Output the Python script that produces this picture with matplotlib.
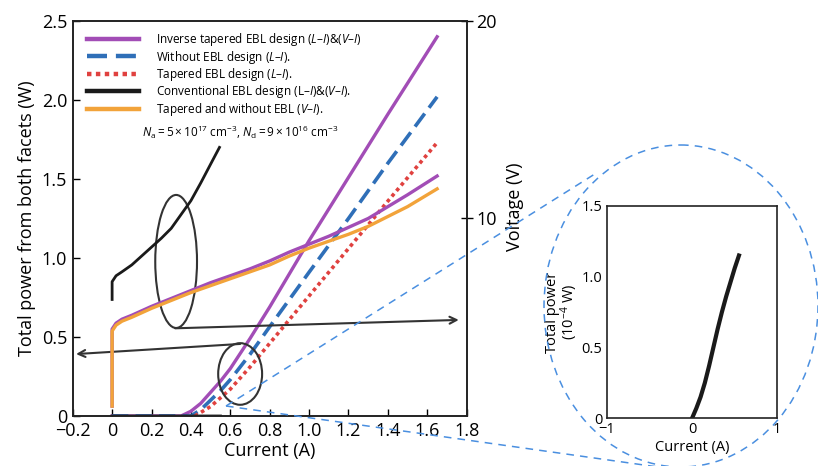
import matplotlib
matplotlib.use("Agg")
import matplotlib.pyplot as plt
from matplotlib.patches import Ellipse

plt.rcParams['font.family'] = ['Open Sans', 'DejaVu Sans']
plt.rcParams['mathtext.fontset'] = 'custom'
plt.rcParams['mathtext.rm'] = 'Open Sans'
plt.rcParams['mathtext.it'] = 'Open Sans:italic'

# L-I curves (W) vs current (A)
inv_li_x = [0.0, 0.35, 0.40, 0.45, 0.50, 0.55, 0.60, 0.70, 0.80, 1.00, 1.20, 1.40, 1.65]
inv_li_y = [0.0, 0.0, 0.03, 0.08, 0.15, 0.22, 0.30, 0.49, 0.69, 1.11, 1.51, 1.91, 2.40]
wo_li_x = [0.0, 0.40, 0.45, 0.50, 0.55, 0.60, 0.70, 0.80, 1.00, 1.20, 1.40, 1.65]
wo_li_y = [0.0, 0.0, 0.04, 0.10, 0.16, 0.23, 0.39, 0.565, 0.91, 1.25, 1.60, 2.02]
tap_li_x = [0.42, 0.50, 0.60, 0.70, 0.80, 0.90, 1.00, 1.20, 1.40, 1.65]
tap_li_y = [0.0, 0.06, 0.17, 0.31, 0.46, 0.61, 0.76, 1.06, 1.36, 1.73]
# conventional L-I, in 1e-4 W (inset)
conv_li_x = [0.0, 0.05, 0.10, 0.15, 0.20, 0.25, 0.30, 0.35, 0.40, 0.45, 0.50, 0.55]
conv_li_y = [0.0, 0.07, 0.15, 0.25, 0.37, 0.50, 0.63, 0.75, 0.86, 0.96, 1.06, 1.15]

# V-I curves (V) vs current (A)
inv_vi_x = [0.0, 0.0, 0.02, 0.05, 0.1, 0.2, 0.3, 0.4, 0.5, 0.6, 0.7, 0.8, 0.9, 1.0, 1.1, 1.2, 1.3, 1.4, 1.5, 1.65]
inv_vi_y = [0.5, 4.4, 4.7, 4.9, 5.1, 5.55, 5.95, 6.35, 6.75, 7.1, 7.45, 7.85, 8.3, 8.7, 9.1, 9.55, 10.0, 10.6, 11.2, 12.15]
tw_vi_x = [0.0, 0.0, 0.02, 0.05, 0.1, 0.2, 0.3, 0.4, 0.5, 0.6, 0.7, 0.8, 0.9, 1.0, 1.1, 1.2, 1.3, 1.4, 1.5, 1.65]
tw_vi_y = [0.5, 4.3, 4.6, 4.8, 5.0, 5.45, 5.85, 6.25, 6.6, 6.95, 7.3, 7.65, 8.1, 8.5, 8.85, 9.2, 9.6, 10.1, 10.6, 11.5]
conv_vi_x = [0.0, 0.0, 0.02, 0.05, 0.10, 0.15, 0.20, 0.25, 0.30, 0.35, 0.40, 0.45, 0.50, 0.545]
conv_vi_y = [5.9, 6.8, 7.1, 7.3, 7.65, 8.1, 8.55, 9.0, 9.5, 10.2, 10.9, 11.8, 12.75, 13.6]

labels = ['Inverse tapered EBL design ($L$–$I$)&($V$–$I$)',
          'Without EBL design ($L$–$I$).',
          'Tapered EBL design ($L$–$I$).',
          'Conventional EBL design (L–$I$)&($V$–$I$).',
          'Tapered and without EBL ($V$–$I$).']

purple = '#a24db6'
blue = '#2f6fb8'
red = '#e0413f'
black = '#1a1a1a'
orange = '#f2a33a'
dash_blue = '#4a8fe0'

fig = plt.figure(figsize=(8.18, 4.66), dpi=100)
ax = fig.add_axes([0.0889, 0.1073, 0.4816, 0.8477])
ax2 = ax.twinx()

l1, = ax.plot(inv_li_x, inv_li_y, color=purple, lw=2.4)
l2, = ax.plot(wo_li_x, wo_li_y, color=blue, lw=2.6, ls=(0, (4.5, 2)))
l3, = ax.plot(tap_li_x, tap_li_y, color=red, lw=2.6, ls=(0, (1, 1)))
l4, = ax.plot(conv_li_x, [v * 1e-4 for v in conv_li_y], color=black, lw=2)

ax2.plot(inv_vi_x, inv_vi_y, color=purple, lw=2.4)
l5, = ax2.plot(tw_vi_x, tw_vi_y, color=orange, lw=2.4)
ax2.plot(conv_vi_x, conv_vi_y, color=black, lw=2)

ax.set_xlim(-0.2, 1.8)
ax.set_ylim(0, 2.5)
ax2.set_ylim(0, 20)

xt = [-0.2, 0, 0.2, 0.4, 0.6, 0.8, 1.0, 1.2, 1.4, 1.6, 1.8]
ax.set_xticks(xt)
ax.set_xticklabels(['−0.2', '0', '0.2', '0.4', '0.6', '0.8', '1.0', '1.2', '1.4', '1.6', '1.8'])
ax.set_yticks([0, 0.5, 1.0, 1.5, 2.0, 2.5])
ax.set_yticklabels(['0', '0.5', '1.0', '1.5', '2.0', '2.5'])
ax.tick_params(direction='in', length=5, width=1, labelsize=13, pad=4)
ax2.set_yticks([10, 20])
ax2.set_yticklabels(['10', '20'])
ax2.tick_params(direction='inout', length=8, width=1, labelsize=13, pad=3)

for a in (ax, ax2):
    for s in a.spines.values():
        s.set_linewidth(1.2)
        s.set_color('#222222')

ax.set_xlabel('Current (A)', fontsize=13, labelpad=2)
ax.set_ylabel('Total power from both facets (W)', fontsize=13, labelpad=4)
ax2.set_ylabel('Voltage (V)', fontsize=13, labelpad=2)
ax2.yaxis.set_label_coords(1.1, 0.53)

# ellipses and arrows
ax.add_patch(Ellipse((0.325, 0.978), 0.212, 0.842, fill=False, ec='#333333', lw=1.5, zorder=5))
ax.add_patch(Ellipse((0.65, 0.266), 0.223, 0.39, fill=False, ec='#333333', lw=1.5, zorder=5))
ax.annotate('', xy=(1.76, 0.608), xytext=(0.32, 0.555),
            arrowprops=dict(arrowstyle='->,head_length=0.5,head_width=0.25', color='#333333', lw=1.5,
                            shrinkA=0, shrinkB=0), annotation_clip=False)
ax.annotate('', xy=(-0.183, 0.392), xytext=(0.65, 0.456),
            arrowprops=dict(arrowstyle='->,head_length=0.5,head_width=0.25', color='#333333', lw=1.5,
                            shrinkA=0, shrinkB=0), annotation_clip=False)

ax.text(0.425, 0.718, r'$N_\mathrm{a}=5\times10^{17}$ cm$^{-3}$, $N_\mathrm{d}=9\times10^{16}$ cm$^{-3}$',
        transform=ax.transAxes, fontsize=8.5, ha='center', va='center')

leg = ax2.legend([l1, l2, l3, l4, l5], labels, loc='upper left', bbox_to_anchor=(0.025, 0.986),
                 frameon=False, fontsize=8.5, handlelength=4.4, handletextpad=1.4,
                 labelspacing=0.03, borderaxespad=0)
for h in leg.get_lines():
    h.set_linewidth(3.2)

# inset
axi = fig.add_axes([0.7417, 0.1024, 0.2086, 0.4556])
axi.plot(conv_li_x, conv_li_y, color=black, lw=3)
axi.set_xlim(-1, 1)
axi.set_ylim(0, 1.5)
axi.set_xticks([-1, 0, 1])
axi.set_xticklabels(['−1', '0', '1'])
axi.set_yticks([0, 0.5, 1.0, 1.5])
axi.set_yticklabels(['0', '0.5', '1.0', '1.5'])
axi.tick_params(direction='in', length=0, labelsize=10.5, pad=3)
for s in axi.spines.values():
    s.set_linewidth(1.2)
    s.set_color('#222222')
axi.set_xlabel('Current (A)', fontsize=10.5, labelpad=2)
axi.set_ylabel('Total power\n(10$^{-4}$ W)', fontsize=10.5, labelpad=1, linespacing=0.9)

# magnifier overlay in pixel coords
ov = fig.add_axes([0, 0, 1, 1], zorder=10)
ov.set_xlim(0, 818)
ov.set_ylim(466, 0)
ov.set_axis_off()
ov.patch.set_alpha(0)
ov.add_patch(Ellipse((681, 306), 274, 322, fill=False, ec=dash_blue, lw=1.1, ls=(0, (5, 4))))
ov.plot([226, 598], [406, 172], color=dash_blue, lw=1.1, ls=(0, (5, 4)))
ov.plot([226, 665], [406, 468], color=dash_blue, lw=1.1, ls=(0, (5, 4)))

fig.savefig('out.png', dpi=100)
